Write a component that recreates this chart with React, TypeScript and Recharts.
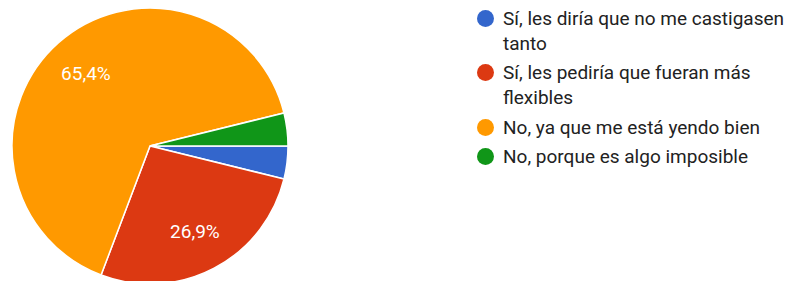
import React from 'react';
import { PieChart, Pie, Cell, Legend } from 'recharts';

const answers = [
  'Sí, les diría que no me castigasen tanto',
  'Sí, les pediría que fueran más flexibles',
  'No, ya que me está yendo bien',
  'No, porque es algo imposible',
];
const counts = [1, 7, 17, 1];
const colors = ['#3366cc', '#dc3912', '#ff9900', '#109618'];

const data = answers.map((name, i) => ({ name, value: counts[i] }));

const RADIAN = Math.PI / 180;

// only label slices big enough, like the original
const renderLabel = (props: any) => {
  const { cx, cy, midAngle, outerRadius, percent } = props;
  if (percent < 0.05) return null;
  const r = outerRadius * 0.7;
  const x = cx + r * Math.cos(-midAngle * RADIAN);
  const y = cy + r * Math.sin(-midAngle * RADIAN);
  const text = (percent * 100).toFixed(1).replace('.', ',') + '%';
  return (
    <text
      x={x}
      y={y}
      fill="#ffffff"
      fontSize={19}
      fontFamily="Roboto, Arial, sans-serif"
      textAnchor="middle"
      dominantBaseline="central"
    >
      {text}
    </text>
  );
};

const LegendList = () => (
  <div style={{ fontFamily: 'Roboto, Arial, sans-serif', fontSize: 19, color: '#222222' }}>
    {answers.map((a, i) => (
      <div key={a} style={{ display: 'flex', alignItems: 'flex-start', marginBottom: 4.5, lineHeight: '25px' }}>
        <span
          style={{
            width: 17,
            height: 17,
            borderRadius: '50%',
            background: colors[i],
            flex: '0 0 17px',
            marginTop: 4,
            marginRight: 9,
          }}
        />
        <span style={{ width: 282 }}>{a}</span>
      </div>
    ))}
  </div>
);

const App: React.FC = () => {
  return (
    <div style={{ position: 'absolute', left: 0, top: 0, width: 786, height: 281, overflow: 'hidden', background: '#fff' }}>
      <PieChart width={786} height={290} margin={{ top: 0, right: 0, bottom: 0, left: 0 }}>
        <Pie
          data={data}
          dataKey="value"
          nameKey="name"
          cx={150}
          cy={146}
          outerRadius={138}
          startAngle={0}
          endAngle={-360}
          stroke="#ffffff"
          strokeWidth={1.5}
          label={renderLabel}
          labelLine={false}
          isAnimationActive={false}
        >
          {data.map((d, i) => (
            <Cell key={d.name} fill={colors[i]} />
          ))}
        </Pie>
        <Legend
          layout="vertical"
          align="right"
          verticalAlign="top"
          content={() => <LegendList />}
          wrapperStyle={{ left: 477, top: 5.5, width: 309 }}
        />
      </PieChart>
    </div>
  );
};

export default App;
